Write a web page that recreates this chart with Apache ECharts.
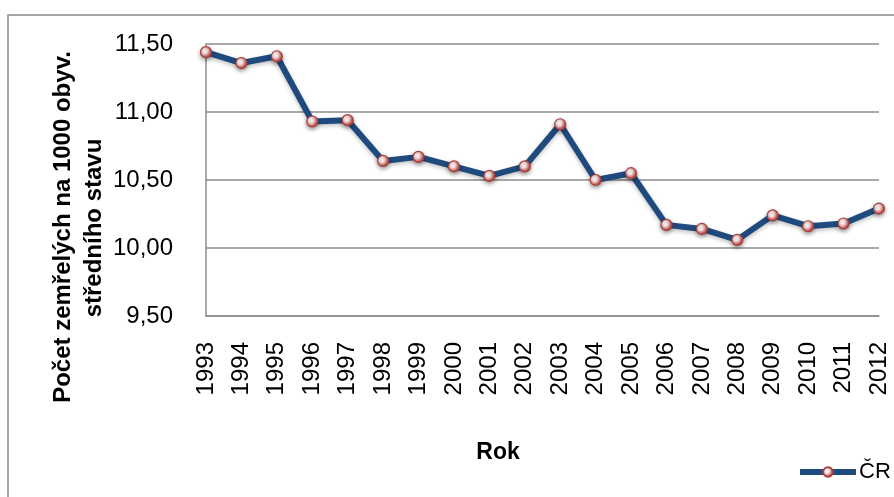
<!DOCTYPE html>
<html>
<head>
<meta charset="utf-8">
<script src="https://cdn.jsdelivr.net/npm/echarts@6/dist/echarts.min.js"></script>
<style>
  html, body { margin: 0; padding: 0; background: #ffffff; }
  #chart { width: 894px; height: 497px; }
</style>
</head>
<body>
<div id="chart"></div>
<script>
// Roky a hrubá míra úmrtnosti v ČR (zemřelí na 1000 obyvatel středního stavu)
var years = ['1993', '1994', '1995', '1996', '1997', '1998', '1999', '2000', '2001', '2002',
             '2003', '2004', '2005', '2006', '2007', '2008', '2009', '2010', '2011', '2012'];
var mortalityCR = [11.44, 11.36, 11.41, 10.93, 10.94, 10.64, 10.67, 10.60, 10.53, 10.60,
                   10.91, 10.50, 10.55, 10.17, 10.14, 10.06, 10.24, 10.16, 10.18, 10.29];
var seriesName = 'ČR';
var yAxisTitle = ['Počet zemřelých na 1000 obyv.', 'středního stavu'];
var xAxisTitle = 'Rok';

var FONT = '"Liberation Sans", Arial, sans-serif';

var chart = echarts.init(document.getElementById('chart'), null, { renderer: 'canvas' });

var markerFill = new echarts.graphic.RadialGradient(0.4, 0.4, 0.6, [
  { offset: 0, color: '#ffffff' },
  { offset: 0.35, color: '#f6e4e3' },
  { offset: 0.75, color: '#cf6a67' },
  { offset: 1, color: '#a33a37' }
]);

chart.setOption({
  animation: false,
  backgroundColor: '#ffffff',
  grid: { left: 206, right: 15, top: 44, bottom: 181, containLabel: false },
  xAxis: {
    type: 'category',
    data: years,
    boundaryGap: false,
    axisLine: { show: true, lineStyle: { color: '#8c8c8c', width: 1.5 } },
    axisTick: { show: false },
    axisLabel: {
      rotate: 90,
      margin: 26,
      color: '#000000',
      fontFamily: FONT,
      fontSize: 24
    },
    splitLine: { show: false }
  },
  yAxis: {
    type: 'value',
    min: 9.5,
    max: 11.5,
    interval: 0.5,
    axisLine: { show: true, lineStyle: { color: '#8c8c8c', width: 1.5 } },
    axisTick: { show: false },
    axisLabel: {
      margin: 33,
      color: '#000000',
      fontFamily: FONT,
      fontSize: 24,
      formatter: function (v) { return v.toFixed(2).replace('.', ','); }
    },
    splitLine: { show: true, lineStyle: { color: '#8c8c8c', width: 1.5 } }
  },
  legend: {
    show: true,
    left: 792,
    top: 456,
    padding: 5,
    itemWidth: 56,
    itemHeight: 12,
    itemGap: 4,
    lineStyle: { width: 6, color: '#1f4a7e' },
    textStyle: { color: '#000000', fontFamily: FONT, fontSize: 22, padding: [0, 0, 0, -2] },
    data: [seriesName]
  },
  series: [{
    name: seriesName,
    type: 'line',
    data: mortalityCR,
    symbol: 'circle',
    symbolSize: 11,
    showAllSymbol: true,
    lineStyle: {
      color: '#1f4a7e',
      width: 6,
      shadowColor: 'rgba(0,0,0,0.25)',
      shadowBlur: 4,
      shadowOffsetY: 2
    },
    itemStyle: {
      color: markerFill,
      borderColor: '#a8403d',
      borderWidth: 1.2,
      shadowColor: 'rgba(0,0,0,0.35)',
      shadowBlur: 4,
      shadowOffsetY: 2
    },
    emphasis: { disabled: true }
  }],
  graphic: [
    {
      type: 'rect',
      silent: true,
      shape: { x: 8, y: 15, width: 900, height: 500 },
      style: { fill: 'none', stroke: '#8a8a8a', lineWidth: 1.5 }
    },
    {
      type: 'text',
      x: 63, y: 227,
      rotation: Math.PI / 2,
      style: {
        text: yAxisTitle[0],
        fill: '#000000',
        font: 'bold 24px ' + FONT,
        textAlign: 'center',
        textVerticalAlign: 'middle'
      }
    },
    {
      type: 'text',
      x: 94, y: 228,
      rotation: Math.PI / 2,
      style: {
        text: yAxisTitle[1],
        fill: '#000000',
        font: 'bold 24px ' + FONT,
        textAlign: 'center',
        textVerticalAlign: 'middle'
      }
    },
    {
      type: 'text',
      x: 498, y: 453,
      style: {
        text: xAxisTitle,
        fill: '#000000',
        font: 'bold 23px ' + FONT,
        textAlign: 'center',
        textVerticalAlign: 'middle'
      }
    }
  ]
});
</script>
</body>
</html>
